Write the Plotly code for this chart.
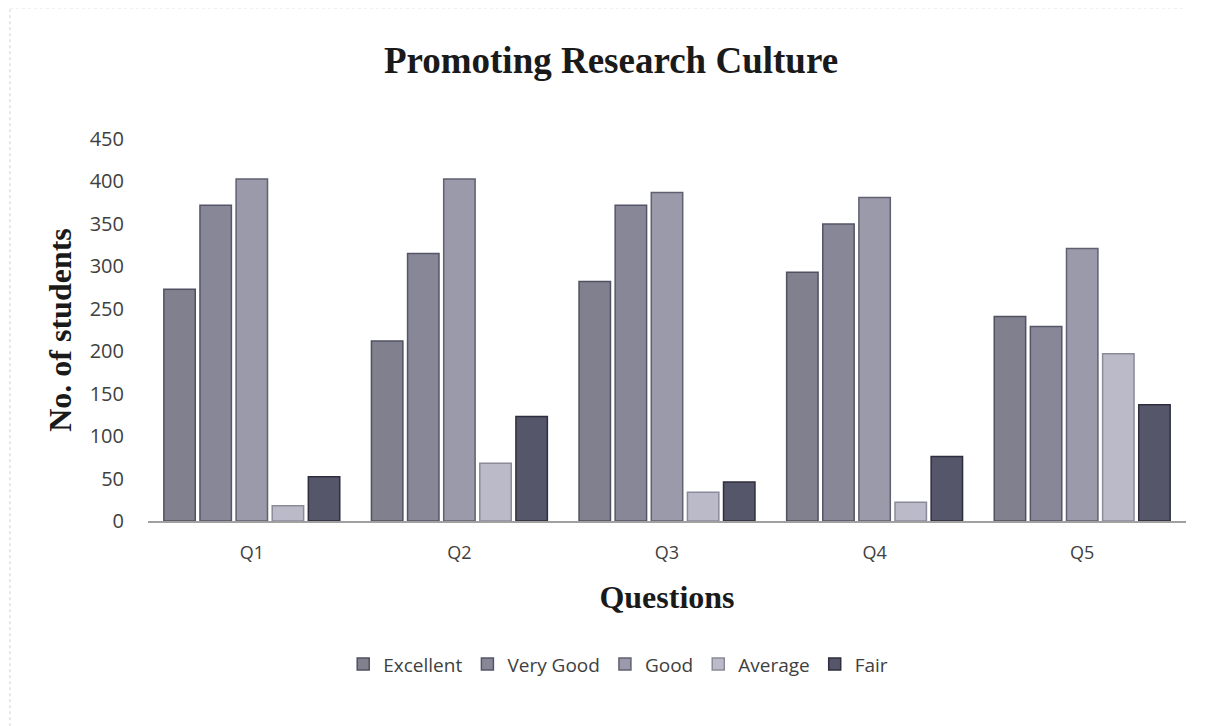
import plotly.graph_objects as go

categories = ["Q1", "Q2", "Q3", "Q4", "Q5"]
series_names = ["Excellent", "Very Good", "Good", "Average", "Fair"]
excellent = [273, 212, 282, 293, 241]
very_good = [372, 315, 372, 350, 229]
good = [403, 403, 387, 381, 321]
average = [18, 68, 34, 22, 197]
fair = [52, 123, 46, 76, 137]
y_ticks = [0, 50, 100, 150, 200, 250, 300, 350, 400, 450]

values = [excellent, very_good, good, average, fair]
fills = ["#80808f", "#878797", "#9a9aaa", "#babac8", "#56566a"]
edges = ["#505060", "#55556a", "#606072", "#8a8a9a", "#2e2e3e"]

fig = go.Figure()
for name, vals, fc, ec in zip(series_names, values, fills, edges):
    fig.add_trace(go.Bar(
        x=categories, y=vals, name=name,
        marker=dict(color=fc, line=dict(color=ec, width=1.5)),
    ))

fig.update_layout(
    width=1206, height=726,
    paper_bgcolor="white", plot_bgcolor="white",
    margin=dict(l=140, r=28, t=131, b=213),
    barmode="group", bargap=0.13, bargroupgap=0.13,
    title=dict(text="<b>Promoting Research Culture</b>", x=0.5, xanchor="center",
               y=1 - 52 / 726, yanchor="middle",
               font=dict(family="Liberation Serif", size=37, color="#1a1a1a")),
    font=dict(family="Open Sans", color="#404040"),
    legend=dict(orientation="h", x=0.453, xanchor="center", y=-0.375, yanchor="middle",
                font=dict(family="Open Sans", size=19, color="#404040"),
                itemwidth=30, traceorder="normal"),
    xaxis=dict(showgrid=False, showline=True, linecolor="#a0a0a0", linewidth=1.5,
               ticks="", tickfont=dict(size=18, color="#404040"),
               ticklabelstandoff=15,
               title=dict(text="<b>Questions</b>", standoff=22,
                          font=dict(family="Liberation Serif", size=32, color="#1a1a1a"))),
    yaxis=dict(range=[0, 450], tickvals=y_ticks, showgrid=False, showline=False,
               zeroline=False, ticks="", tickfont=dict(size=20, color="#404040"),
               ticklabelstandoff=23,
               title=dict(text="<b>No. of students</b>", standoff=8,
                          font=dict(family="Liberation Serif", size=32, color="#1a1a1a"))),
)

# faint scan border lines
fig.add_shape(type="line", xref="paper", yref="paper", x0=-0.133, x1=-0.133,
              y0=-0.6, y1=1.343, line=dict(color="#d0d0d0", width=1, dash="dot"))
fig.add_shape(type="line", xref="paper", yref="paper", x0=-0.133, x1=1.0,
              y0=1.343, y1=1.343, line=dict(color="#e0e0e0", width=1, dash="dot"))

fig.write_html("out.html")
